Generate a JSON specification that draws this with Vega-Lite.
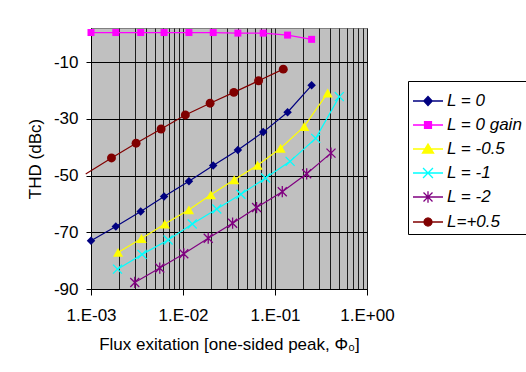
{
  "$schema": "https://vega.github.io/schema/vega-lite/v6.json",
  "width": 276,
  "height": 261,
  "autosize": {"type": "none"},
  "padding": {"left": 91, "top": 28, "right": 159, "bottom": 83},
  "background": "white",
  "config": {
    "view": {"fill": "#C0C0C0", "stroke": "#808080", "strokeWidth": 1},
    "font": "Liberation Sans",
    "legend": {
      "orient": "none",
      "legendX": 317,
      "legendY": 53,
      "strokeColor": "black",
      "fillColor": "white",
      "padding": 4,
      "symbolSize": 900,
      "symbolStrokeWidth": 1.3,
      "labelFontSize": 17,
      "labelFontStyle": "italic",
      "labelFont": "Liberation Sans",
      "labelColor": "black",
      "labelOffset": 3,
      "rowPadding": 0,
      "titleFontSize": 0,
      "titlePadding": 0,
      "labelLimit": 300,
      "cornerRadius": 0
    }
  },
  "data": {
    "values": [
      {"s": "L = 0", "x": 0.001, "y": -73.0},
      {"s": "L = 0", "x": 0.00186, "y": -68.0},
      {"s": "L = 0", "x": 0.00347, "y": -62.7},
      {"s": "L = 0", "x": 0.00623, "y": -57.4},
      {"s": "L = 0", "x": 0.0116, "y": -52.0},
      {"s": "L = 0", "x": 0.0213, "y": -46.5},
      {"s": "L = 0", "x": 0.0395, "y": -41.0},
      {"s": "L = 0", "x": 0.0744, "y": -34.7},
      {"s": "L = 0", "x": 0.137, "y": -27.7},
      {"s": "L = 0", "x": 0.25, "y": -18.2},
      {"s": "L = 0 gain", "x": 0.001, "y": 0.4},
      {"s": "L = 0 gain", "x": 0.00186, "y": 0.4},
      {"s": "L = 0 gain", "x": 0.00347, "y": 0.4},
      {"s": "L = 0 gain", "x": 0.00623, "y": 0.4},
      {"s": "L = 0 gain", "x": 0.0116, "y": 0.4},
      {"s": "L = 0 gain", "x": 0.0213, "y": 0.4},
      {"s": "L = 0 gain", "x": 0.0395, "y": 0.2},
      {"s": "L = 0 gain", "x": 0.0744, "y": 0.2},
      {"s": "L = 0 gain", "x": 0.137, "y": -0.5},
      {"s": "L = 0 gain", "x": 0.25, "y": -2.0},
      {"s": "L = -0.5", "x": 0.00197, "y": -77.1},
      {"s": "L = -0.5", "x": 0.00354, "y": -72.2},
      {"s": "L = -0.5", "x": 0.00634, "y": -67.1},
      {"s": "L = -0.5", "x": 0.0116, "y": -62.1},
      {"s": "L = -0.5", "x": 0.0201, "y": -56.8},
      {"s": "L = -0.5", "x": 0.036, "y": -51.5},
      {"s": "L = -0.5", "x": 0.0647, "y": -46.4},
      {"s": "L = -0.5", "x": 0.115, "y": -40.4},
      {"s": "L = -0.5", "x": 0.208, "y": -32.7},
      {"s": "L = -0.5", "x": 0.374, "y": -20.9},
      {"s": "L = -1", "x": 0.00194, "y": -83.0},
      {"s": "L = -1", "x": 0.00359, "y": -77.8},
      {"s": "L = -1", "x": 0.00689, "y": -72.7},
      {"s": "L = -1", "x": 0.0126, "y": -67.1},
      {"s": "L = -1", "x": 0.0233, "y": -61.8},
      {"s": "L = -1", "x": 0.0426, "y": -56.6},
      {"s": "L = -1", "x": 0.079, "y": -50.9},
      {"s": "L = -1", "x": 0.146, "y": -45.0},
      {"s": "L = -1", "x": 0.277, "y": -36.9},
      {"s": "L = -1", "x": 0.5, "y": -22.2},
      {"s": "L = -2", "x": 0.00299, "y": -87.7},
      {"s": "L = -2", "x": 0.00559, "y": -82.6},
      {"s": "L = -2", "x": 0.0102, "y": -77.6},
      {"s": "L = -2", "x": 0.0188, "y": -72.1},
      {"s": "L = -2", "x": 0.0346, "y": -66.8},
      {"s": "L = -2", "x": 0.0631, "y": -61.3},
      {"s": "L = -2", "x": 0.12, "y": -55.7},
      {"s": "L = -2", "x": 0.221, "y": -49.4},
      {"s": "L = -2", "x": 0.406, "y": -42.1},
      {"s": "L=+0.5", "x": 0.000876, "y": -49.5},
      {"s": "L=+0.5", "x": 0.00167, "y": -43.8},
      {"s": "L=+0.5", "x": 0.00309, "y": -38.6},
      {"s": "L=+0.5", "x": 0.00578, "y": -33.6},
      {"s": "L=+0.5", "x": 0.0106, "y": -28.65},
      {"s": "L=+0.5", "x": 0.0197, "y": -24.5},
      {"s": "L=+0.5", "x": 0.0357, "y": -20.7},
      {"s": "L=+0.5", "x": 0.0663, "y": -16.6},
      {"s": "L=+0.5", "x": 0.123, "y": -12.5}
    ]
  },
  "encoding": {
    "x": {
      "field": "x",
      "type": "quantitative",
      "scale": {"type": "log", "domain": [0.001, 1], "nice": false},
      "axis": {
        "values": [0.001, 0.002, 0.003, 0.004, 0.005, 0.006, 0.007, 0.008, 0.009, 0.01, 0.02, 0.03, 0.04, 0.05, 0.06, 0.07, 0.08, 0.09, 0.1, 0.2, 0.3, 0.4, 0.5, 0.6, 0.7, 0.8, 0.9, 1],
        "title": "Flux exitation [one-sided peak, Φ₀]",
        "labelExpr": "abs(log(datum.value)/LN10 - round(log(datum.value)/LN10)) < 0.001 ? (round(log(datum.value)/LN10) < 0 ? '1.E-0' + (-round(log(datum.value)/LN10)) : '1.E+00') : ''",
        "tickOpacity": {"condition": {"test": "abs(log(datum.value)/LN10 - round(log(datum.value)/LN10)) < 0.001", "value": 1}, "value": 0},
        "tickSize": 6,
        "tickColor": "black",
        "domainColor": "black",
        "grid": true,
        "gridColor": "black",
        "gridWidth": 1,
        "gridOpacity": 0.85,
        "labelFontSize": 17,
        "labelColor": "black",
        "labelPadding": 12,
        "labelFlush": false,
        "labelOverlap": false,
        "titleFontSize": 17,
        "titleFontWeight": "normal",
        "titleColor": "black",
        "titlePadding": 13
      }
    },
    "y": {
      "field": "y",
      "type": "quantitative",
      "scale": {"domain": [-90, 2], "nice": false, "zero": false},
      "axis": {
        "values": [-90, -70, -50, -30, -10],
        "labelExpr": "'' + datum.value",
        "title": "THD (dBc)",
        "tickSize": 5,
        "tickColor": "black",
        "domainColor": "black",
        "grid": true,
        "gridColor": "black",
        "gridWidth": 1,
        "labelFontSize": 17,
        "labelColor": "black",
        "labelPadding": 8,
        "titleFontSize": 17,
        "titleFontWeight": "normal",
        "titleColor": "black",
        "titlePadding": 9
      }
    },
    "color": {
      "field": "s",
      "type": "nominal",
      "scale": {
        "domain": ["L = 0", "L = 0 gain", "L = -0.5", "L = -1", "L = -2", "L=+0.5"],
        "range": ["#000080", "#FF00FF", "#FFFF00", "#00FFFF", "#800080", "#800000"]
      },
      "legend": {"title": null}
    }
  },
  "layer": [
    {"mark": {"type": "line", "strokeWidth": 1.2}},
    {
      "transform": [{"filter": "false"}],
      "mark": {"type": "point", "filled": true, "opacity": 1, "strokeWidth": 1.3},
      "encoding": {
        "shape": {
          "field": "s",
          "type": "nominal",
          "scale": {
            "domain": ["L = 0", "L = 0 gain", "L = -0.5", "L = -1", "L = -2", "L=+0.5"],
            "range": [
              "M-1,0L1,0M-0.28,0L0,-0.3L0.28,0L0,0.3Z",
              "M-1,0L1,0M-0.23,-0.23L0.23,-0.23L0.23,0.23L-0.23,0.23Z",
              "M-1,0L1,0M-0.37,0.27L0,-0.33L0.37,0.27Z",
              "M-1,0L1,0M-0.33,-0.33L0.33,0.33M-0.33,0.33L0.33,-0.33",
              "M-1,0L1,0M-0.3,-0.3L0.3,0.3M-0.3,0.3L0.3,-0.3M0,-0.38L0,0.38",
              "M-1,0L1,0M0.27,0L0.234,0.135L0.135,0.234L0,0.27L-0.135,0.234L-0.234,0.135L-0.27,0L-0.234,-0.135L-0.135,-0.234L0,-0.27L0.135,-0.234L0.234,-0.135Z"
            ]
          },
          "legend": {"title": null}
        }
      }
    },
    {
      "transform": [{"filter": "datum.s === 'L = 0'"}],
      "mark": {"type": "point", "shape": "diamond", "filled": true, "opacity": 1, "size": 72}
    },
    {
      "transform": [{"filter": "datum.s === 'L = 0 gain'"}],
      "mark": {"type": "point", "shape": "square", "filled": true, "opacity": 1, "size": 49}
    },
    {
      "transform": [{"filter": "datum.s === 'L = -0.5'"}],
      "mark": {"type": "point", "shape": "triangle-up", "filled": true, "opacity": 1, "size": 105}
    },
    {
      "transform": [{"filter": "datum.s === 'L = -1'"}],
      "mark": {"type": "point", "shape": "M-1,-1L1,1M-1,1L1,-1", "filled": false, "opacity": 1, "strokeWidth": 1.3, "size": 81}
    },
    {
      "transform": [{"filter": "datum.s === 'L = -2'"}],
      "mark": {"type": "point", "shape": "M-1,-1L1,1M-1,1L1,-1M0,-1.25L0,1.25", "filled": false, "opacity": 1, "strokeWidth": 1.3, "size": 81}
    },
    {
      "transform": [{"filter": "datum.s === 'L=+0.5' && datum.x >= 0.001"}],
      "mark": {"type": "point", "shape": "circle", "filled": true, "opacity": 1, "size": 80}
    }
  ]
}
